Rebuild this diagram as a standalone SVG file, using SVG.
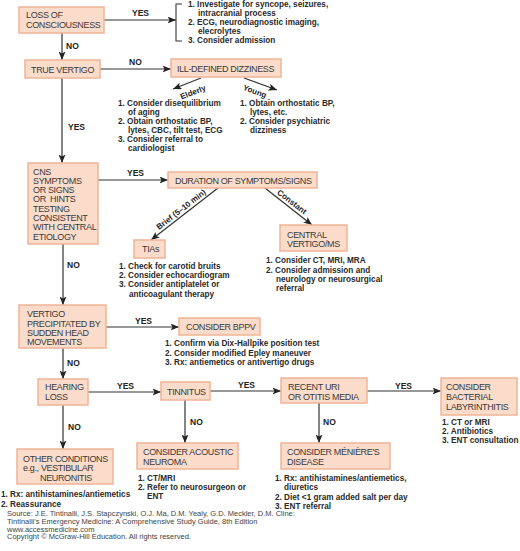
<svg xmlns="http://www.w3.org/2000/svg" width="520" height="551" viewBox="0 0 520 551">
<defs>
<style>
.box{fill:#fbdccb;stroke:#efb497;stroke-width:1.5}
.bt{font-family:"Liberation Sans",Arial,Helvetica,sans-serif;font-size:9px;letter-spacing:-0.35px;fill:#3a3a3a}
.lt{font-family:"Liberation Sans",Arial,Helvetica,sans-serif;font-size:8.2px;font-weight:bold;fill:#2a2a2a}
.lbl{font-family:"Liberation Sans",Arial,Helvetica,sans-serif;font-size:8.5px;font-weight:bold;fill:#222}
.rl{font-family:"Liberation Sans",Arial,Helvetica,sans-serif;font-size:8px;font-weight:bold;fill:#222;text-anchor:middle}
.ln{stroke:#333;stroke-width:1.2;fill:none;marker-end:url(#ah)}
.src{font-family:"Liberation Sans",Arial,Helvetica,sans-serif;font-size:7.5px;fill:#444}
</style>
<marker id="ah" markerUnits="userSpaceOnUse" markerWidth="9" markerHeight="7" refX="8.5" refY="3.5" orient="auto">
<path d="M0,0 L8.5,3.5 L0,7 L2,3.5 z" fill="#222"/>
</marker>
</defs>
<rect width="520" height="551" fill="#fff"/>

<g id="connectors">
<line class="ln" x1="104" y1="20" x2="176" y2="20"/>
<path d="M182,4 H176 V41 H182" stroke="#333" stroke-width="1.1" fill="none"/>
<text class="lbl" x="132" y="16">YES</text>
<line class="ln" x1="62" y1="33" x2="62" y2="60"/>
<text class="lbl" x="66" y="49">NO</text>
<line class="ln" x1="100" y1="69" x2="171" y2="69"/>
<text class="lbl" x="129" y="65">NO</text>
<line class="ln" x1="201" y1="78" x2="173" y2="89"/>
<text class="rl" transform="translate(193,92) rotate(-21)" y="3">Elderly</text>
<line class="ln" x1="244" y1="78" x2="277" y2="90"/>
<text class="rl" transform="translate(255,91) rotate(20)" y="3">Young</text>
<line class="ln" x1="62" y1="78" x2="62" y2="163"/>
<text class="lbl" x="68" y="130">YES</text>
<line class="ln" x1="98" y1="180" x2="168" y2="180"/>
<text class="lbl" x="127" y="176">YES</text>
<line class="ln" x1="218" y1="188" x2="151" y2="240"/>
<text class="rl" transform="translate(184.5,214) rotate(-37.8)" y="-3">Brief (5–10 min)</text>
<line class="ln" x1="265" y1="188" x2="312" y2="225"/>
<text class="rl" transform="translate(288.5,206.5) rotate(37.5)" y="-3">Constant</text>
<line class="ln" x1="63" y1="244" x2="63" y2="305"/>
<text class="lbl" x="67" y="268">NO</text>
<line class="ln" x1="106" y1="327" x2="179" y2="327"/>
<text class="lbl" x="135" y="324">YES</text>
<line class="ln" x1="63" y1="348" x2="63" y2="379"/>
<text class="lbl" x="67" y="366">NO</text>
<line class="ln" x1="88" y1="392" x2="161" y2="392"/>
<text class="lbl" x="117" y="389">YES</text>
<line class="ln" x1="210" y1="391" x2="281" y2="391"/>
<text class="lbl" x="238" y="388">YES</text>
<line class="ln" x1="367" y1="391" x2="441" y2="391"/>
<text class="lbl" x="395" y="389">YES</text>
<line class="ln" x1="63" y1="405" x2="63" y2="449"/>
<text class="lbl" x="68" y="430">NO</text>
<line class="ln" x1="185" y1="400" x2="185" y2="443"/>
<text class="lbl" x="190" y="425">NO</text>
<line class="ln" x1="319" y1="403" x2="319" y2="443"/>
<text class="lbl" x="323" y="425">NO</text>
</g>

<g id="loss">
<rect class="box" x="19" y="7" width="85" height="26"/>
<text class="bt" x="26" y="18">LOSS OF</text>
<text class="bt" x="26" y="28">CONSCIOUSNESS</text>
</g>
<g id="loss-actions">
<text class="lt" x="188" y="7">1. Investigate for syncope, seizures,</text>
<text class="lt" x="198" y="16">intracranial process</text>
<text class="lt" x="188" y="25">2. ECG, neurodiagnostic imaging,</text>
<text class="lt" x="198" y="34">elecrolytes</text>
<text class="lt" x="188" y="43">3. Consider admission</text>
</g>

<g id="true-vertigo">
<rect class="box" x="25" y="60" width="75" height="18"/>
<text class="bt" x="31" y="72.5">TRUE VERTIGO</text>
</g>

<g id="ill-defined">
<rect class="box" x="171" y="59" width="110" height="18"/>
<text class="bt" x="177" y="71.5">ILL-DEFINED DIZZINESS</text>
</g>
<g id="elderly-actions">
<text class="lt" x="118" y="106">1. Consider disequilibrium</text>
<text class="lt" x="128" y="115">of aging</text>
<text class="lt" x="118" y="124">2. Obtain orthostatic BP,</text>
<text class="lt" x="128" y="133">lytes, CBC, tilt test, ECG</text>
<text class="lt" x="118" y="142">3. Consider referral to</text>
<text class="lt" x="128" y="151">cardiologist</text>
</g>
<g id="young-actions">
<text class="lt" x="240" y="106">1. Obtain orthostatic BP,</text>
<text class="lt" x="250" y="115">lytes, etc.</text>
<text class="lt" x="240" y="124">2. Consider psychiatric</text>
<text class="lt" x="250" y="133">dizziness</text>
</g>

<g id="cns">
<rect class="box" x="28" y="163" width="70" height="81"/>
<text class="bt" x="33" y="174.5">CNS</text>
<text class="bt" x="33" y="184">SYMPTOMS</text>
<text class="bt" x="33" y="193">OR SIGNS</text>
<text class="bt" x="33" y="202">OR&#160; HINTS</text>
<text class="bt" x="33" y="211.5">TESTING</text>
<text class="bt" x="33" y="221">CONSISTENT</text>
<text class="bt" x="33" y="230">WITH CENTRAL</text>
<text class="bt" x="33" y="239.5">ETIOLOGY</text>
</g>

<g id="duration">
<rect class="box" x="168" y="172" width="149" height="16"/>
<text class="bt" x="175" y="183.5">DURATION OF SYMPTOMS/SIGNS</text>
</g>

<g id="tias">
<rect class="box" x="134" y="240" width="31" height="18"/>
<text class="bt" x="142" y="252">TIAs</text>
<text class="lt" x="119" y="269">1. Check for carotid bruits</text>
<text class="lt" x="119" y="278">2. Consider echocardiogram</text>
<text class="lt" x="119" y="287">3. Consider antiplatelet or</text>
<text class="lt" x="129" y="297">anticoagulant therapy</text>
</g>

<g id="central">
<rect class="box" x="280" y="225" width="67" height="26"/>
<text class="bt" x="287" y="237.5">CENTRAL</text>
<text class="bt" x="287" y="247">VERTIGO/MS</text>
<text class="lt" x="266" y="263">1. Consider CT, MRI, MRA</text>
<text class="lt" x="266" y="272.5">2. Consider admission and</text>
<text class="lt" x="276" y="282">neurology or neurosurgical</text>
<text class="lt" x="276" y="291">referral</text>
</g>

<g id="vertigo-head">
<rect class="box" x="19" y="305" width="87" height="43"/>
<text class="bt" x="27" y="317">VERTIGO</text>
<text class="bt" x="27" y="326.5">PRECIPITATED BY</text>
<text class="bt" x="27" y="336">SUDDEN HEAD</text>
<text class="bt" x="27" y="345">MOVEMENTS</text>
</g>

<g id="bppv">
<rect class="box" x="179" y="318" width="81" height="17"/>
<text class="bt" x="186" y="330">CONSIDER BPPV</text>
<text class="lt" x="165" y="346">1. Confirm via Dix-Hallpike position test</text>
<text class="lt" x="165" y="355.5">2. Consider modified Epley maneuver</text>
<text class="lt" x="165" y="365">3. Rx: antiemetics or antivertigo drugs</text>
</g>

<g id="hearing">
<rect class="box" x="38" y="379" width="50" height="26"/>
<text class="bt" x="45" y="390">HEARING</text>
<text class="bt" x="45" y="400">LOSS</text>
</g>

<g id="tinnitus">
<rect class="box" x="161" y="382" width="49" height="18"/>
<text class="bt" x="167" y="394.5">TINNITUS</text>
</g>

<g id="recent-uri">
<rect class="box" x="281" y="378" width="86" height="25"/>
<text class="bt" x="288" y="390">RECENT URI</text>
<text class="bt" x="288" y="399.5">OR OTITIS MEDIA</text>
</g>

<g id="bacterial">
<rect class="box" x="441" y="378" width="76" height="37"/>
<text class="bt" x="446" y="390">CONSIDER</text>
<text class="bt" x="446" y="400">BACTERIAL</text>
<text class="bt" x="446" y="409.5">LABYRINTHITIS</text>
<text class="lt" x="442" y="425">1. CT or MRI</text>
<text class="lt" x="442" y="434">2. Antibiotics</text>
<text class="lt" x="442" y="443">3. ENT consultation</text>
</g>

<g id="other">
<rect class="box" x="17" y="449" width="96" height="35"/>
<text class="bt" x="23" y="462">OTHER CONDITIONS</text>
<text class="bt" x="23" y="471">e.g., VESTIBULAR</text>
<text class="bt" x="40" y="481">NEURONITIS</text>
<text class="lt" x="1" y="497">1. Rx: antihistamines/antiemetics</text>
<text class="lt" x="1" y="507">2. Reassurance</text>
</g>

<g id="acoustic">
<rect class="box" x="137" y="443" width="101" height="26"/>
<text class="bt" x="143" y="455">CONSIDER ACOUSTIC</text>
<text class="bt" x="143" y="464.5">NEUROMA</text>
<text class="lt" x="138" y="481">1. CT/MRI</text>
<text class="lt" x="138" y="490">2. Refer to neurosurgeon or</text>
<text class="lt" x="147" y="499">ENT</text>
</g>

<g id="meniere">
<rect class="box" x="281" y="443" width="109" height="26"/>
<text class="bt" x="287" y="455">CONSIDER MÉNIÈRE'S</text>
<text class="bt" x="287" y="464.5">DISEASE</text>
<text class="lt" x="275" y="481">1. Rx: antihistamines/antiemetics,</text>
<text class="lt" x="284" y="490">diuretics</text>
<text class="lt" x="275" y="500">2. Diet &lt;1 gram added salt per day</text>
<text class="lt" x="275" y="509">3. ENT referral</text>
</g>

<g id="source">
<text class="src" x="7" y="516">Source: J.E. Tintinalli, J.S. Stapczynski, O.J. Ma, D.M. Yealy, G.D. Meckler, D.M. Cline:</text>
<text class="src" x="7" y="524">Tintinalli's Emergency Medicine: A Comprehensive Study Guide, 8th Edition</text>
<text class="src" x="7" y="531.5">www.accessmedicine.com</text>
<text class="src" x="7" y="539">Copyright © McGraw-Hill Education.  All rights reserved.</text>
</g>
</svg>
